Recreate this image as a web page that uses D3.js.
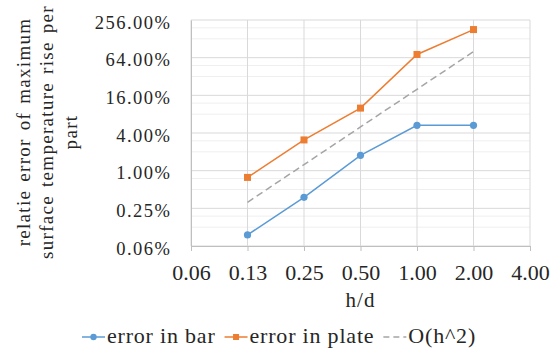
<!DOCTYPE html>
<html>
<head>
<meta charset="utf-8">
<script src="https://cdn.jsdelivr.net/npm/d3@7"></script>
<style>
  body { margin: 0; background: #fff; }
  svg text { font-family: "Liberation Serif", "Times New Roman", serif; fill: #262626; }
</style>
</head>
<body>
<div id="chart"></div>
<script>
// data (y in percent)
const hd = [0.125, 0.25, 0.5, 1, 2];
const errBar = [0.094, 0.375, 1.76, 5.3, 5.3];
const errPlate = [0.78, 3.1, 10.0, 72, 180];
const orderH2 = [0.3125, 1.25, 5, 20, 80];
const xTicks = [0.0625, 0.125, 0.25, 0.5, 1, 2, 4];
const yTicks = [0.0625, 0.25, 1, 4, 16, 64, 256];
const seriesNames = ["error in bar", "error in plate", "O(h^2)"];

const W = 554, H = 352;
const plot = { left: 191, right: 530, top: 20, bottom: 246 };

const svg = d3.select("#chart").append("svg")
  .attr("width", W).attr("height", H);

const x = d3.scaleLog().base(2).domain([0.0625, 4]).range([plot.left, plot.right]);
const y = d3.scaleLog().base(4).domain([0.0625, 256]).range([plot.bottom, plot.top]);

// minor gridlines (2x, 3x of each major)
const minor = [];
yTicks.slice(0, -1).forEach(v => { minor.push(v * 2, v * 3); });
svg.append("g").selectAll("line").data(minor).join("line")
  .attr("x1", plot.left).attr("x2", plot.right)
  .attr("y1", d => y(d)).attr("y2", d => y(d))
  .attr("stroke", "#efefef").attr("stroke-width", 1);

// major gridlines
svg.append("g").selectAll("line").data(yTicks).join("line")
  .attr("x1", plot.left).attr("x2", plot.right)
  .attr("y1", d => y(d)).attr("y2", d => y(d))
  .attr("stroke", "#d9d9d9").attr("stroke-width", 1);
svg.append("g").selectAll("line").data(xTicks).join("line")
  .attr("x1", d => x(d)).attr("x2", d => x(d))
  .attr("y1", plot.top).attr("y2", plot.bottom)
  .attr("stroke", "#d9d9d9").attr("stroke-width", 1);

// x axis
const xAxis = svg.append("g")
  .attr("transform", `translate(0,${plot.bottom})`)
  .call(d3.axisBottom(x).tickValues(xTicks).tickFormat(d3.format(".2f"))
    .tickSize(5).tickSizeOuter(0).tickPadding(13.4));
xAxis.select(".domain").attr("stroke", "#bfbfbf");
xAxis.selectAll(".tick line").attr("stroke", "#bfbfbf");
xAxis.selectAll("text").style("font-size", "22px").attr("fill", "#262626");

// y axis
const yAxis = svg.append("g")
  .attr("transform", `translate(${plot.left},0)`)
  .call(d3.axisLeft(y).tickValues(yTicks).tickFormat(d => d3.format(".2f")(d) + "%")
    .tickSize(0).tickSizeOuter(0).tickPadding(19.5));
yAxis.select(".domain").attr("stroke", "#bfbfbf");
yAxis.selectAll("text").style("font-size", "18.5px").style("letter-spacing", "1.5px")
  .attr("dy", "0.45em").attr("fill", "#262626");

// axis titles
svg.append("text")
  .attr("x", (plot.left + plot.right) / 2).attr("y", 307)
  .attr("text-anchor", "middle").style("font-size", "21px").style("letter-spacing", "1px")
  .text("h/d");

const yTitle = ["relatie error of maximum", "surface temperature rise per", "part"];
svg.append("g").selectAll("text").data(yTitle).join("text")
  .attr("transform", (d, i) => `translate(${29.5 + i * 23.5},${(plot.top + plot.bottom) / 2 - 1}) rotate(-90)`)
  .attr("text-anchor", "middle").style("font-size", "19px")
  .style("letter-spacing", "1.3px").style("word-spacing", "2px")
  .text(d => d);

// lines
const line = d3.line().x((d, i) => x(hd[i])).y(d => y(d));

svg.append("path").datum(orderH2)
  .attr("fill", "none").attr("stroke", "#a5a5a5").attr("stroke-width", 1.5)
  .attr("stroke-dasharray", "7,4").attr("d", line);

svg.append("path").datum(errBar)
  .attr("fill", "none").attr("stroke", "#5b9bd5").attr("stroke-width", 1.5)
  .attr("d", line);
svg.append("g").selectAll("circle").data(errBar).join("circle")
  .attr("cx", (d, i) => x(hd[i])).attr("cy", d => y(d)).attr("r", 3.6)
  .attr("fill", "#5b9bd5");

svg.append("path").datum(errPlate)
  .attr("fill", "none").attr("stroke", "#ed7d31").attr("stroke-width", 1.5)
  .attr("d", line);
svg.append("g").selectAll("rect").data(errPlate).join("rect")
  .attr("x", (d, i) => x(hd[i]) - 3.5).attr("y", d => y(d) - 3.5)
  .attr("width", 7).attr("height", 7)
  .attr("fill", "#ed7d31");

// legend
const legend = svg.append("g");
const ly = 337;
let lx = 82;
const styles = [
  { color: "#5b9bd5", dash: null, marker: "circle" },
  { color: "#ed7d31", dash: null, marker: "square" },
  { color: "#a5a5a5", dash: "6,4", marker: null }
];
seriesNames.forEach((name, i) => {
  const s = styles[i];
  legend.append("line")
    .attr("x1", lx).attr("x2", lx + 23).attr("y1", ly).attr("y2", ly)
    .attr("stroke", s.color).attr("stroke-width", 1.5)
    .attr("stroke-dasharray", s.dash);
  if (s.marker === "circle") {
    legend.append("circle").attr("cx", lx + 11.5).attr("cy", ly).attr("r", 3.2).attr("fill", s.color);
  } else if (s.marker === "square") {
    legend.append("rect").attr("x", lx + 8.5).attr("y", ly - 3).attr("width", 6).attr("height", 6).attr("fill", s.color);
  }
  const t = legend.append("text")
    .attr("x", lx + 25).attr("y", 342.5)
    .style("font-size", "22px").style("letter-spacing", "0.8px")
    .text(name);
  lx += 25 + t.node().getComputedTextLength() + 9;
});
</script>
</body>
</html>
